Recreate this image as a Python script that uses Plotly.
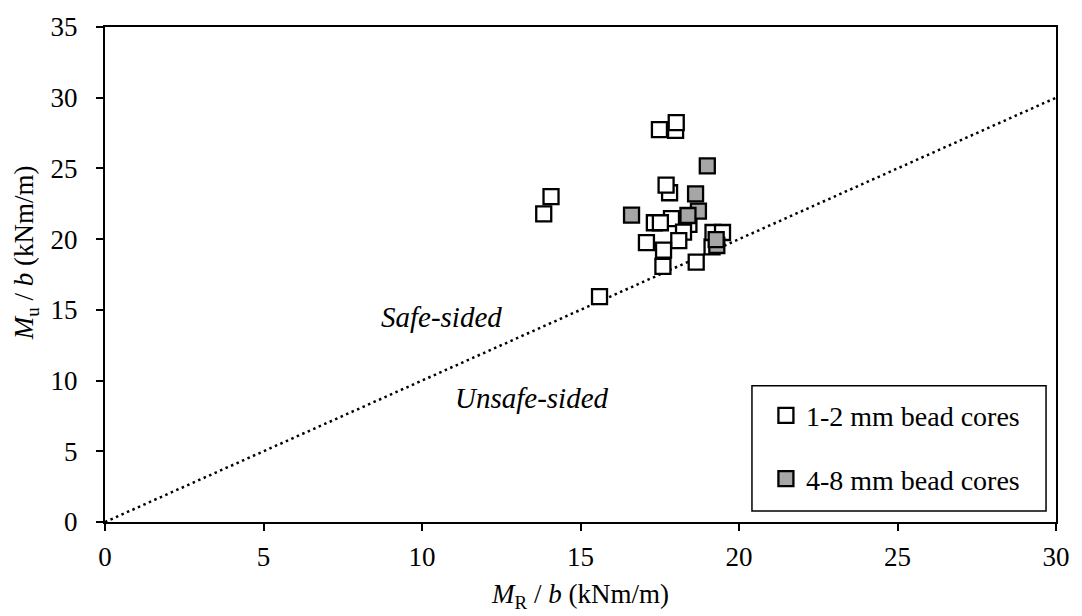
import plotly.graph_objects as go

# Flexural capacity per unit width: calculated (M_R/b) vs. measured (M_u/b), kNm/m
mr_small = [13.84, 14.07, 15.60, 18.00, 17.49, 18.02, 17.81, 17.70, 17.87, 17.33,
            17.52, 18.42, 18.25, 18.10, 17.08, 17.62, 17.60, 18.65, 19.15, 19.18, 19.48]
mu_small = [21.79, 23.00, 15.93, 27.69, 27.74, 28.24, 23.28, 23.82, 21.45, 21.16,
            21.16, 21.05, 20.50, 19.90, 19.76, 19.22, 18.08, 18.38, 19.45, 20.47, 20.47]

mr_large = [16.61, 19.00, 18.63, 18.72, 18.39, 19.30, 19.28]
mu_large = [21.70, 25.18, 23.20, 21.98, 21.67, 19.55, 19.96]

# Reference line M_u = M_R
ref_x = [0, 30]
ref_y = [0, 30]

x_ticks = [0, 5, 10, 15, 20, 25, 30]
y_ticks = [0, 5, 10, 15, 20, 25, 30, 35]

FONT = "Liberation Serif"

fig = go.Figure()

fig.add_trace(go.Scatter(
    x=ref_x, y=ref_y, mode="lines",
    line=dict(color="black", width=2.5, dash="2.5px,3.5px"),
    showlegend=False, hoverinfo="skip",
))

fig.add_trace(go.Scatter(
    x=mr_small, y=mu_small, mode="markers", name="1-2 mm bead cores",
    legendgroup="a",
    marker=dict(symbol="square", size=15, color="white",
                line=dict(color="black", width=2.3)),
))

fig.add_trace(go.Scatter(
    x=mr_large, y=mu_large, mode="markers", name="4-8 mm bead cores",
    legendgroup="b",
    marker=dict(symbol="square", size=15, color="#a6a6a6",
                line=dict(color="black", width=2.3)),
))

fig.add_annotation(x=10.6, y=14.5, xref="x", yref="y", text="<i>Safe-sided</i>",
                   showarrow=False, font=dict(family=FONT, size=29, color="black"))
fig.add_annotation(x=13.47, y=8.75, xref="x", yref="y", text="<i>Unsafe-sided</i>",
                   showarrow=False, font=dict(family=FONT, size=29, color="black"))

# y-axis title
fig.add_annotation(x=-0.083, y=0.543, xref="paper", yref="paper",
                   xanchor="center", yanchor="middle",
                   text="<i>M</i><sub>u</sub> / <i>b</i> (kNm/m)", textangle=-90,
                   showarrow=False, font=dict(family=FONT, size=27, color="black"))

# legend frame
fig.add_shape(type="rect", xref="paper", yref="paper",
              x0=(754 - 105) / 954, x1=(1049 - 105) / 954,
              y0=(524.3 - 513) / 506, y1=(524.3 - 385) / 506,
              line=dict(color="black", width=1.5), fillcolor="white", layer="below")

axis_common = dict(
    showgrid=False, zeroline=False,
    showline=True, linecolor="black", linewidth=2, mirror=True,
    ticks="outside", ticklen=7, tickwidth=2, tickcolor="black",
    tickfont=dict(family=FONT, size=27, color="black"),
)

fig.update_xaxes(range=[0, 30], tickvals=x_ticks, ticklabelstandoff=3,
                 title=dict(text="<i>M</i><sub>R</sub> / <i>b</i> (kNm/m)",
                            font=dict(family=FONT, size=27, color="black"), standoff=13),
                 **axis_common)
fig.update_yaxes(range=[0, 35], tickvals=y_ticks, ticklabelstandoff=13,
                 **axis_common)

fig.update_layout(
    width=1082, height=616,
    margin=dict(l=105, r=23, t=18, b=92),
    paper_bgcolor="white", plot_bgcolor="white",
    font=dict(family=FONT, size=27, color="black"),
    showlegend=True,
    legend=dict(x=(768 - 105) / 954, y=(524.3 - 390) / 506, xanchor="left", yanchor="top",
                bgcolor="rgba(0,0,0,0)", borderwidth=0,
                font=dict(family=FONT, size=28, color="black"),
                traceorder="grouped", tracegroupgap=24, itemwidth=30),
)

fig.write_html("out.html")
